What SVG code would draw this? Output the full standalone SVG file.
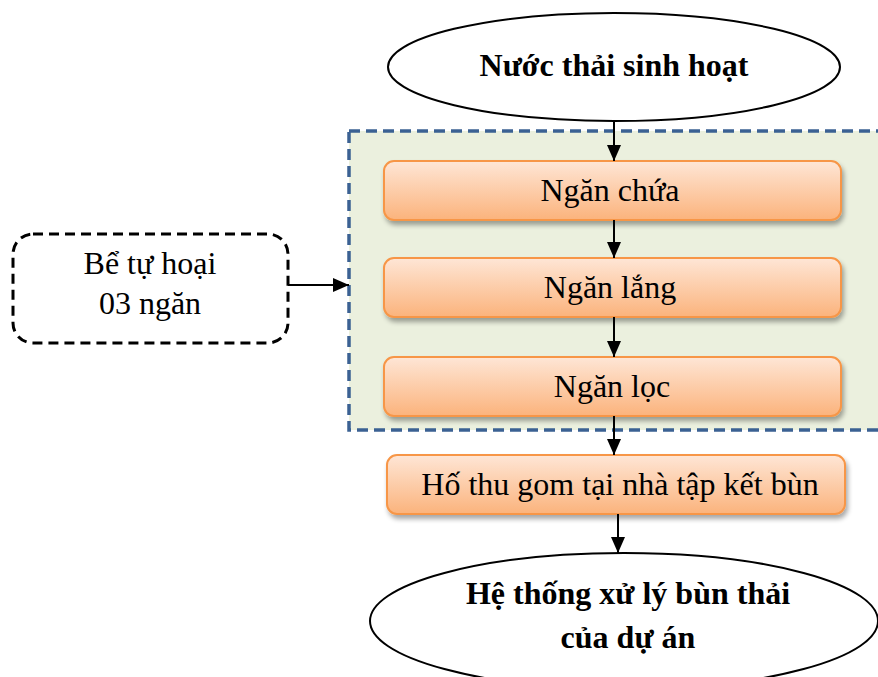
<svg xmlns="http://www.w3.org/2000/svg" width="878" height="677" viewBox="0 0 878 677">
  <defs>
    <linearGradient id="orangeFill" x1="0" y1="0" x2="0" y2="1">
      <stop offset="0" stop-color="#FEE6D6"/>
      <stop offset="1" stop-color="#FBB37C"/>
    </linearGradient>
    <filter id="softShadow" x="-5%" y="-20%" width="115%" height="160%">
      <feGaussianBlur in="SourceAlpha" stdDeviation="2.5"/>
      <feOffset dx="2" dy="4" result="blur"/>
      <feComponentTransfer><feFuncA type="linear" slope="0.35"/></feComponentTransfer>
      <feMerge><feMergeNode/><feMergeNode in="SourceGraphic"/></feMerge>
    </filter>
    <marker id="arrowHead" markerUnits="userSpaceOnUse" markerWidth="16" markerHeight="16" refX="16" refY="8" orient="auto">
      <path d="M0,1 L16,8 L0,15 Z" fill="#000"/>
    </marker>
  </defs>
  <style>
    .reg { font-family: "Liberation Serif", "Times New Roman", serif; font-size: 32px; fill: #000; text-anchor: middle; }
    .bold { font-family: "Liberation Serif", "Times New Roman", serif; font-size: 32px; font-weight: bold; fill: #000; text-anchor: middle; }
    .stage { fill: url(#orangeFill); stroke: #F79646; stroke-width: 2; filter: url(#softShadow); }
    .terminal { fill: #fff; stroke: #000; stroke-width: 2; }
    .link { stroke: #000; stroke-width: 2; fill: none; marker-end: url(#arrowHead); }
  </style>

  <rect width="878" height="677" fill="#fff"/>

  <!-- septic tank container -->
  <g id="tank-group">
    <rect x="349" y="131" width="540" height="299" fill="#EBF0DE" stroke="#3B6193" stroke-width="3.5" stroke-dasharray="11 6"/>
  </g>

  <g id="source">
    <ellipse class="terminal" cx="614" cy="67" rx="226" ry="54"/>
    <text class="bold" x="614" y="76">Nước thải sinh hoạt</text>
  </g>

  <g id="tank-label">
    <rect x="13" y="234" width="275" height="109" rx="20" ry="20" fill="#fff" stroke="#000" stroke-width="3" stroke-dasharray="10 6"/>
    <text class="reg" x="150" y="274">Bể tự hoại</text>
    <text class="reg" x="150" y="314">03 ngăn</text>
  </g>

  <g id="holding">
    <rect class="stage" x="384" y="161" width="457" height="59" rx="10" ry="10"/>
    <text class="reg" x="610" y="201">Ngăn chứa</text>
  </g>

  <g id="settling">
    <rect class="stage" x="384" y="258" width="457" height="59" rx="10" ry="10"/>
    <text class="reg" x="610" y="298">Ngăn lắng</text>
  </g>

  <g id="filter">
    <rect class="stage" x="384" y="357" width="457" height="59" rx="10" ry="10"/>
    <text class="reg" x="612" y="397">Ngăn lọc</text>
  </g>

  <g id="collection">
    <rect class="stage" x="387" y="455" width="458" height="59" rx="10" ry="10"/>
    <text class="reg" x="620" y="495">Hố thu gom tại nhà tập kết bùn</text>
  </g>

  <g id="sludge-system">
    <ellipse class="terminal" cx="624" cy="621" rx="254" ry="68"/>
    <text class="bold" x="628" y="604">Hệ thống xử lý bùn thải</text>
    <text class="bold" x="628" y="648">của dự án</text>
  </g>

  <g id="connectors">
    <line class="link" x1="614" y1="121" x2="614" y2="161"/>
    <line class="link" x1="614" y1="220" x2="614" y2="258"/>
    <line class="link" x1="614" y1="317" x2="614" y2="357"/>
    <line class="link" x1="614" y1="416" x2="614" y2="455"/>
    <line class="link" x1="618" y1="514" x2="618" y2="553"/>
    <line class="link" x1="288" y1="285" x2="349" y2="285"/>
  </g>
</svg>
